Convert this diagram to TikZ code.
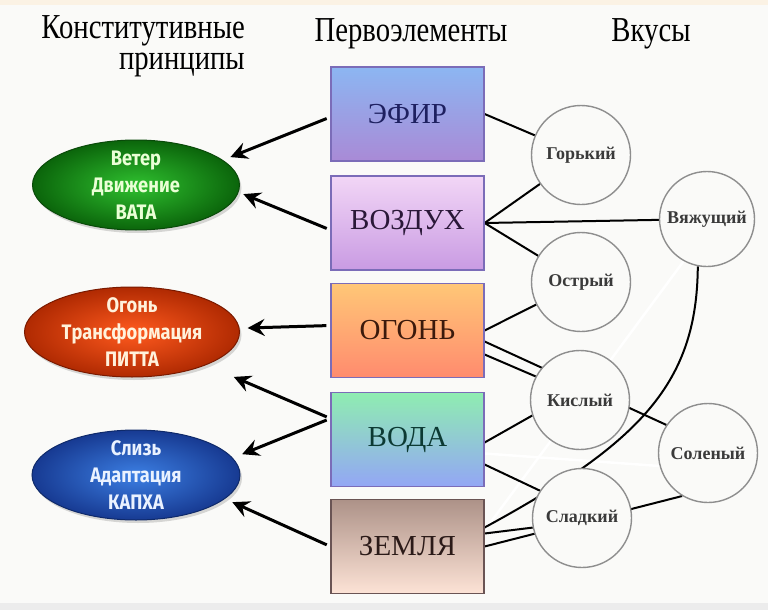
\documentclass[tikz,border=0pt]{standalone}
\usepackage{fontspec}
\setmainfont{Liberation Serif}
\newfontfamily\headfont[FakeStretch=0.82]{Liberation Serif}
\newfontfamily\doshafont[FakeStretch=0.87]{Fira Sans}
\usetikzlibrary{arrows.meta,shapes.geometric,shadows}
\pgfdeclarelayer{bg}
\pgfdeclarelayer{wires}
\pgfsetlayers{bg,wires,main}

\definecolor{paper}{HTML}{FAFAF8}
\definecolor{topband}{HTML}{FBF2E4}
\definecolor{botband}{HTML}{ECECEC}
\definecolor{elemline}{HTML}{7B6CB8}
\definecolor{circline}{HTML}{8E8E8E}
\definecolor{tastetext}{HTML}{3A3A3A}
\definecolor{efirtop}{HTML}{8CB6F2}
\definecolor{efirbot}{HTML}{A98AD6}
\definecolor{vozdtop}{HTML}{F2D6F6}
\definecolor{vozdbot}{HTML}{C99BE3}
\definecolor{ogontop}{HTML}{FFC777}
\definecolor{ogonbot}{HTML}{FF8B6E}
\definecolor{vodatop}{HTML}{8FEDB1}
\definecolor{vodabot}{HTML}{93A6F5}
\definecolor{zemtop}{HTML}{AD9288}
\definecolor{zembot}{HTML}{FDE3D6}

\tikzset{
  head/.style={font=\headfont\fontsize{35}{30}\selectfont, inner sep=0pt},
  elem/.style={draw=elemline, line width=1.2pt, minimum width=153pt,
    minimum height=94pt, inner sep=0pt, font=\fontsize{29}{32}\selectfont},
  taste/.style={circle, draw=circline, line width=1.4pt, fill=paper,
    minimum size=99pt, inner sep=0pt, text=tastetext,
    font=\bfseries\fontsize{18}{20}\selectfont},
  dosha/.style={ellipse, minimum width=208pt, minimum height=90pt,
    inner sep=0pt, line width=1pt,
    drop shadow={opacity=0.3, shadow xshift=2pt, shadow yshift=-3pt}},
  doshatext/.style={align=center, inner sep=0pt,
    font=\doshafont\bfseries\fontsize{21}{27}\selectfont},
  arr/.style={-{Stealth[length=17pt,width=17pt,inset=6pt]}, line width=3pt,
    shorten <=4pt, shorten >=8pt},
  wire/.style={line width=2pt},
  ghost/.style={white, line width=2.5pt}
}

\begin{document}
\begin{tikzpicture}[x=1pt,y=-1pt]
  \useasboundingbox (0,0) rectangle (768,610);
  \begin{pgfonlayer}{bg}
    \fill[paper] (0,0) rectangle (768,610);
    \fill[topband] (0,0) rectangle (768,5);
    \fill[botband] (0,603) rectangle (768,610);
  \end{pgfonlayer}

  % headings
  \node[head, anchor=base east] (konst) at (245,38) {Конститутивные};
  \node[head, anchor=base east] (princ) at (245,70) {принципы};
  \node[head, anchor=base] (perv) at (411,42) {Первоэлементы};
  \node[head, anchor=base] (vkus) at (651,42) {Вкусы};

  % elements
  \node[elem, top color=efirtop, bottom color=efirbot, text={rgb,255:red,30;green,32;blue,96}] (efir) at (407.5,114) {ЭФИР};
  \node[elem, top color=vozdtop, bottom color=vozdbot, text={rgb,255:red,42;green,24;blue,56}] (vozd) at (407.5,223) {ВОЗДУХ};
  \node[elem, top color=ogontop, bottom color=ogonbot, text={rgb,255:red,59;green,26;blue,12}] (ogon) at (407.5,330.5) {ОГОНЬ};
  \node[elem, top color=vodatop, bottom color=vodabot, text={rgb,255:red,12;green,58;blue,51}] (voda) at (407.5,439.5) {ВОДА};
  \node[elem, draw={rgb,255:red,106;green,84;blue,84}, top color=zemtop, bottom color=zembot, text={rgb,255:red,43;green,26;blue,24}] (zem) at (407.5,546.5) {ЗЕМЛЯ};

  % tastes
  \node[taste] (gor) at (581,155) {Горький};
  \node[taste, minimum size=95pt] (vyaz) at (707,219) {Вяжущий};
  \node[taste] (ostr) at (581,282) {Острый};
  \node[taste] (kisl) at (580,400) {Кислый};
  \node[taste] (sol) at (708,453) {Соленый};
  \node[taste] (slad) at (582,518) {Сладкий};

  % doshas
  \node[dosha, minimum width=207pt, draw={rgb,255:red,10;green,74;blue,10},
    inner color={rgb,255:red,47;green,192;blue,47}, outer color={rgb,255:red,11;green,101;blue,11}] (vata) at (136,185) {};
  \node[doshatext, text={rgb,255:red,234;green,255;blue,214}] (vatatxt) at (vata) {Ветер\\Движение\\ВАТА};
  \node[dosha, minimum width=215pt, draw={rgb,255:red,122;green,26;blue,0},
    inner color={rgb,255:red,255;green,90;blue,30}, outer color={rgb,255:red,176;green,42;blue,2}] (pitta) at (132,332) {};
  \node[doshatext, text={rgb,255:red,255;green,242;blue,220}] (pittatxt) at (pitta) {Огонь\\Трансформация\\ПИТТА};
  \node[dosha, draw={rgb,255:red,15;green,42;blue,106},
    inner color={rgb,255:red,60;green,127;blue,227}, outer color={rgb,255:red,23;green,58;blue,146}] (kapha) at (136,475) {};
  \node[doshatext, text={rgb,255:red,234;green,242;blue,255}] (kaphatxt) at (kapha) {Слизь\\Адаптация\\КАПХА};

  % element -> taste
  \begin{pgfonlayer}{wires}
    \draw[ghost] ([yshift=-14pt]voda.east) -- (sol.195);
    \draw[ghost] ([yshift=16pt]zem.east) -- (vyaz.241);
    \draw[wire] (efir.east) -- (gor);
    \draw[wire] (vozd.east) -- (gor);
    \draw[wire] (vozd.east) -- (vyaz);
    \draw[wire] (vozd.east) -- (ostr);
    \draw[wire] (ogon.east) -- (ostr);
    \draw[wire] ([yshift=-11pt]ogon.east) -- (sol.146);
    \draw[wire] ([yshift=-24pt]ogon.east) -- (kisl.152);
    \draw[wire] ([yshift=-3pt]voda.east) -- (kisl.198);
    \draw[wire] ([yshift=-25pt]voda.east) -- (slad.147);
    \draw[wire] ([yshift=13pt]zem.east) -- (slad.191);
    \draw[wire] (zem.east) -- (sol.239);
    \draw[wire] ([yshift=19pt]zem.east) .. controls (642,442) and (697,382) .. (vyaz.259);
  \end{pgfonlayer}

  % element -> dosha
  \draw[arr] ([yshift=-3pt]efir.west) -- (vata.16);
  \draw[arr, shorten >=5pt] ([yshift=-7pt]vozd.west) -- (vata.-4);
  \draw[arr] ([yshift=5pt]ogon.west) -- (pitta.2);
  \draw[arr, shorten >=30pt] ([yshift=21pt]voda.west) -- (pitta.-24);
  \draw[arr, shorten >=10pt] ([yshift=21pt]voda.west) -- (kapha.10);
  \draw[arr] (zem.west) -- (kapha.-15);
\end{tikzpicture}
\end{document}
